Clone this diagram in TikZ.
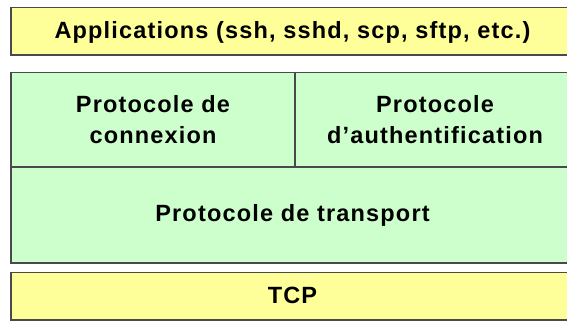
\documentclass[tikz,border=0pt]{standalone}
\usepackage{fontspec}
\setmainfont[LetterSpace=5]{Liberation Sans}
\definecolor{appyellow}{HTML}{FFFF99}
\definecolor{protogreen}{HTML}{CCFFCC}
\definecolor{edgegray}{HTML}{4A4A4A}
\begin{document}
\begin{tikzpicture}[x=1pt,y=-1pt,
  layer/.style={draw=edgegray, line width=1.6pt},
  txt/.style={font=\fontsize{23.5}{31.6}\selectfont\bfseries, text=black,
    inner sep=0pt, align=center}]
  \useasboundingbox (0,0) rectangle (567,322);
  \clip (0,0) rectangle (567,322);

  % SSH stack, top to bottom
  \draw[layer, fill=appyellow]  (11,7.5) rectangle (578,55);
  \draw[layer, fill=protogreen] (11,72.5) rectangle (578,263);
  \draw[layer] (11,167) -- (578,167);
  \draw[layer] (295,72.5) -- (295,167);
  \draw[layer, fill=appyellow]  (11,272.5) rectangle (578,320);

  % layer names
  \node[txt, anchor=base] (apps) at (292.5,38) {Applications (ssh, sshd, scp, sftp, etc.)};
  \node[txt] (conn) at (153,119.5) {Protocole de\\connexion};
  \node[txt] (auth) at (435,119.5) {Protocole\\d’authentification};
  \node[txt, anchor=base] (trans) at (292.5,221) {Protocole de transport};
  \node[txt, anchor=base] (tcp) at (292.5,303) {TCP};
\end{tikzpicture}
\end{document}
